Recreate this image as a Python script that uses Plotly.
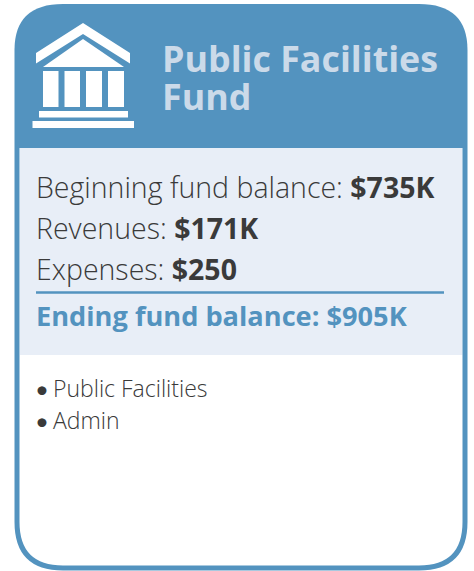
import plotly.graph_objects as go

# ---- content ----
title_lines = ["Public Facilities", "Fund"]
balance_labels = ["Beginning fund balance:", "Revenues:", "Expenses:"]
balance_values = ["$735K", "$171K", "$250"]
ending_label = "Ending fund balance:"
ending_value = "$905K"
bullet_items = ["Public Facilities", "Admin"]

BLUE = "#5393BF"
BORDER = "#5393BF"
PANEL = "#E8EEF7"
TITLE = "#CBDAE9"
INK = "#3A3A3A"
FONT = "Open Sans"

L, R, T, B = 17, 465, 4, 568
RAD = 46
HEAD = 148

def rounded(l, r, t, b, rt, rb):
    return (f"M{l},{t+rt} Q{l},{t} {l+rt},{t} L{r-rt},{t} Q{r},{t} {r},{t+rt} "
            f"L{r},{b-rb} Q{r},{b} {r-rb},{b} L{l+rb},{b} Q{l},{b} {l},{b-rb} Z")

shapes = []
def add_path(path, fill, line=None, width=0):
    shapes.append(dict(type="path", path=path, fillcolor=fill, xref="x", yref="y",
                       line=dict(color=line or fill, width=width), layer="above"))
def add_rect(x0, y0, x1, y1, fill):
    shapes.append(dict(type="rect", x0=x0, y0=y0, x1=x1, y1=y1, fillcolor=fill, xref="x", yref="y",
                       line=dict(width=0), layer="above"))

add_path(rounded(L, R, T, B, RAD, RAD), "white")
add_path(f"M14.5,{HEAD} L14.5,{T+RAD} Q14.5,{T} {L+RAD},{T} L{R-RAD},{T} Q467.5,{T} 467.5,{T+RAD} L467.5,{HEAD} Z", BLUE)
add_rect(20, HEAD, 462.5, 355, PANEL)
# card outline
add_path(f"M{L},{HEAD} L{L},{B-RAD} Q{L},{B} {L+RAD},{B} L{R-RAD},{B} Q{R},{B} {R},{B-RAD} L{R},{HEAD}",
         "rgba(0,0,0,0)", BORDER, 5)
# divider
shapes.append(dict(type="line", x0=36, x1=444, y0=292.5, y1=292.5, xref="x", yref="y",
                   line=dict(color=BLUE, width=2.5), layer="above"))
# building icon
add_path("M36,53 L83,23 L130,53 L130,63.5 L83,34 L36,63.5 Z", "white")
add_path("M43,67 L83,39 L124,67 Z", "white")
for x0, x1 in [(43, 58.5), (64.5, 80), (86, 102), (108, 124)]:
    add_rect(x0, 71, x1, 107, "white")
add_rect(39, 111, 128, 117.5, "white")
add_rect(32.5, 121, 134, 128, "white")

ann = []
def text(x, y, s, size, color, weight=300, family=FONT):
    ann.append(dict(x=x, y=y, xref="x", yref="y", text=s, showarrow=False, xanchor="left", yanchor="middle",
                    align="left", font=dict(family=family, size=size, color=color, weight=weight)))

text(159.5, 58, f"<b>{title_lines[0]}</b>", 35.8, TITLE)
text(159.5, 96, f"<b>{title_lines[1]}</b>", 35.8, TITLE)
for y, a, b in zip([186.5, 227.5, 268.5], balance_labels, balance_values):
    text(34, y, f"{a} <b>{b}</b>", 28.5, INK)
text(34, 315, f"<b>{ending_label} {ending_value}</b>", 27.2, BLUE)
for y, s in zip([388, 420], bullet_items):
    text(33, y, "•", 24, INK, weight=400, family="Lato")
    text(51, y, s, 23, INK)

fig = go.Figure()
fig.update_layout(
    width=474, height=571, margin=dict(l=0, r=0, t=0, b=0),
    paper_bgcolor="white", plot_bgcolor="white", showlegend=False,
    xaxis=dict(range=[0, 474], visible=False, fixedrange=True),
    yaxis=dict(range=[571, 0], visible=False, fixedrange=True),
    shapes=shapes, annotations=ann,
)
fig.write_html("out.html", config={"displayModeBar": False},
               post_script="document.body.style.margin='0';")
